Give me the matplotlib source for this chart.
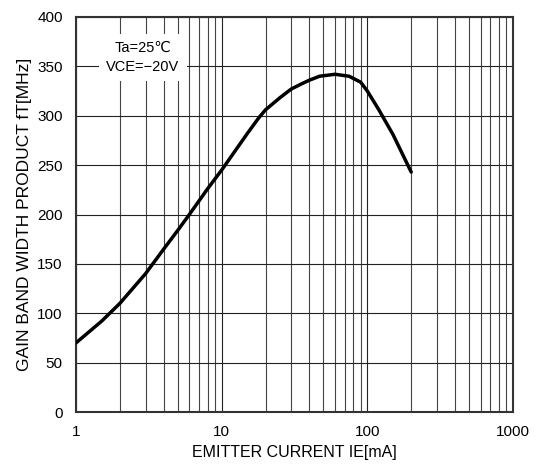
import matplotlib
matplotlib.use("Agg")
import matplotlib.pyplot as plt
from matplotlib.ticker import LogLocator, NullFormatter

plt.rcParams['font.family'] = ['Liberation Sans', 'DejaVu Sans']

# emitter current [mA] vs gain band width product [MHz]
ie_ma = [1, 1.5, 2, 3, 4, 5, 6, 8, 10, 15, 18, 20, 25, 30, 35, 40, 47, 60, 75, 90, 100, 120, 150, 200]
ft_mhz = [70, 92, 110, 140, 165, 184, 200, 226, 245, 282, 298, 306, 318, 327, 332, 336, 340, 342, 340, 334, 325, 306, 281, 243]

x_ticks = [1, 10, 100, 1000]
x_tick_labels = ["1", "10", "100", "1000"]
y_ticks = [0, 50, 100, 150, 200, 250, 300, 350, 400]

fig = plt.figure(figsize=(5.38, 4.68), dpi=100)
ax = fig.add_axes([76 / 538, 56 / 468, 437 / 538, 395 / 468])

ax.set_xscale("log")
ax.set_xlim(1, 1000)
ax.set_ylim(0, 400)

ax.set_xticks(x_ticks)
ax.set_xticklabels(x_tick_labels)
ax.xaxis.set_minor_locator(LogLocator(base=10, subs=range(2, 10)))
ax.xaxis.set_minor_formatter(NullFormatter())
ax.set_yticks(y_ticks)

ax.grid(True, which="major", color="#222222", linewidth=0.8)
ax.grid(True, which="minor", axis="x", color="#444444", linewidth=0.8)
ax.set_axisbelow(True)

ax.plot(ie_ma, ft_mhz, color="black", linewidth=2.5, solid_capstyle="round",
        solid_joinstyle="round", zorder=3)

ax.tick_params(which="both", length=0, labelsize=11, pad=9.5)
for s in ax.spines.values():
    s.set_linewidth(1.5)
    s.set_color("#333333")

ax.set_xlabel("EMITTER CURRENT IE[mA]", fontsize=11.5, labelpad=4.5)
ax.set_ylabel("GAIN BAND WIDTH PRODUCT fT[MHz]", fontsize=12.5, labelpad=3.5)

ax.text(2.88, 359, "Ta=25℃\nVCE=−20V", ha="center", va="center", fontsize=10.5,
        linespacing=1.45, zorder=4,
        bbox=dict(facecolor="white", edgecolor="none", pad=5))

fig.savefig("out.png", dpi=100)
